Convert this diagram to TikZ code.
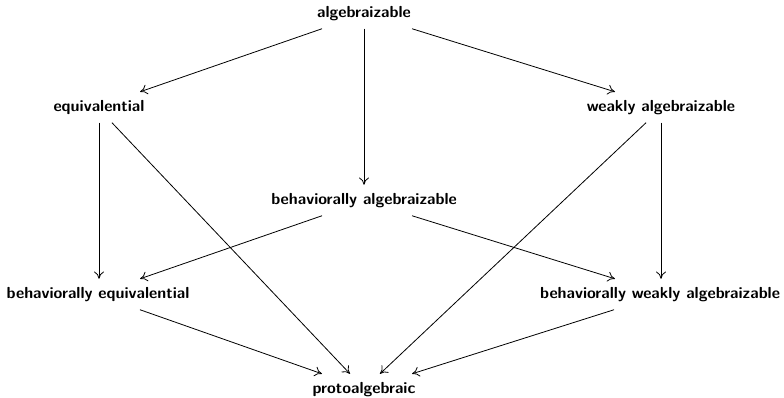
\documentclass[tikz,border=0pt]{standalone}
\usetikzlibrary{arrows.meta,calc}
\begin{document}
\begin{tikzpicture}[x=0.75pt,y=-0.75pt,
  lbl/.style={font=\fontsize{12}{14}\selectfont\sffamily\bfseries, anchor=base,
    text height=8pt, text depth=2.4pt, inner xsep=0pt, inner ysep=6.2pt},
  arr/.style={line width=0.6pt, -{To[length=5.5pt,width=7.5pt]}}]
\useasboundingbox (0,0) rectangle (784,397);
\node[lbl] (alg) at (364,17) {algebraizable};
\node[lbl] (equiv) at (99,111) {equivalential};
\node[lbl] (weak) at (661,111) {weakly algebraizable};
\node[lbl] (balg) at (364,204) {behaviorally algebraizable};
\node[lbl] (bequiv) at (98,298) {behaviorally equivalential};
\node[lbl] (bweak) at (660,298) {behaviorally weakly algebraizable};
\node[lbl] (proto) at (364,393) {protoalgebraic};
\draw[arr] ($(alg.south)+(-42,0)$) -- ($(equiv.north)+(41,0)$);
\draw[arr] (alg.south) -- (balg.north);
\draw[arr] ($(alg.south)+(48,0)$) -- ($(weak.north)+(-46,0)$);
\draw[arr] (equiv.south) -- ($(bequiv.north)+(1,0)$);
\draw[arr] ($(equiv.south)+(13,0)$) -- ($(proto.north)+(-14,0)$);
\draw[arr] ($(weak.south)+(-15,0)$) -- ($(proto.north)+(16,0)$);
\draw[arr] (weak.south) -- ($(bweak.north)+(1,0)$);
\draw[arr] ($(balg.south)+(-42,0)$) -- ($(bequiv.north)+(42,0)$);
\draw[arr] ($(balg.south)+(48,0)$) -- ($(bweak.north)+(-45,0)$);
\draw[arr] ($(bequiv.south)+(42,0)$) -- ($(proto.north)+(-42,0)$);
\draw[arr] ($(bweak.south)+(-46,0)$) -- ($(proto.north)+(48,0)$);
\end{tikzpicture}
\end{document}
